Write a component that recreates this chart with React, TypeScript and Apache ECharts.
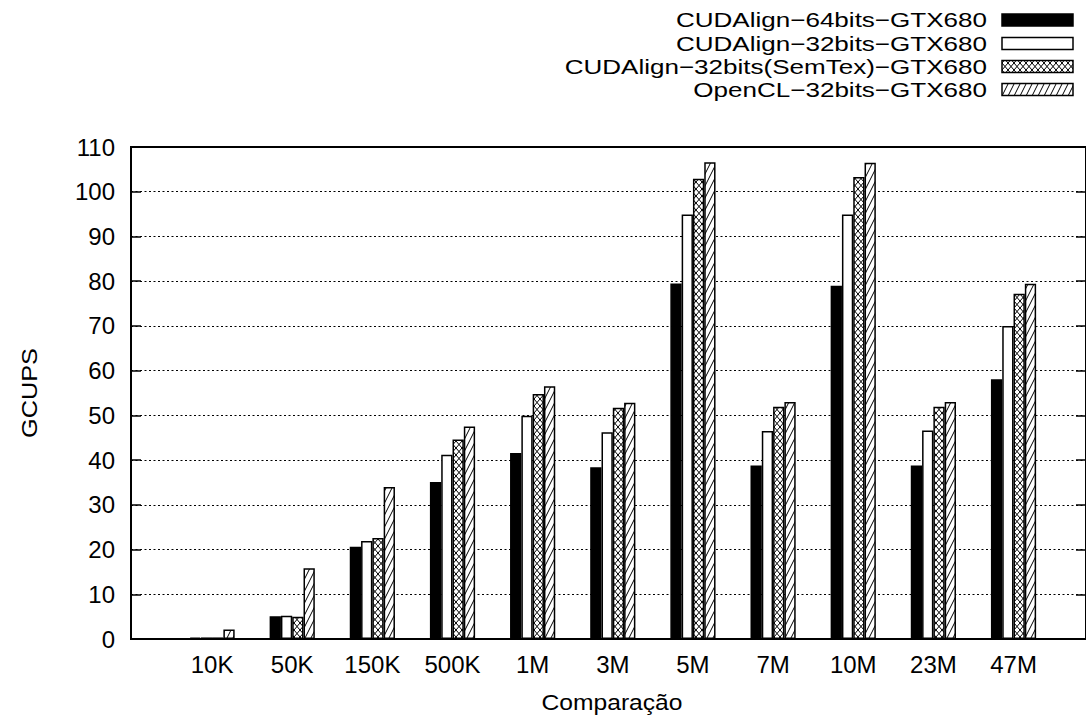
import React, { useEffect, useRef } from "react";
import * as echarts from "echarts";

const categories = ["10K", "50K", "150K", "500K", "1M", "3M", "5M", "7M", "10M", "23M", "47M"];
const seriesNames = [
  "CUDAlign−64bits−GTX680",
  "CUDAlign−32bits−GTX680",
  "CUDAlign−32bits(SemTex)−GTX680",
  "OpenCL−32bits−GTX680",
];
const cuda64 = [0.3, 5.1, 20.6, 35.1, 41.6, 38.4, 79.5, 38.8, 79.0, 38.8, 58.1];
const cuda32 = [0.35, 5.2, 21.9, 41.2, 49.9, 46.2, 94.9, 46.5, 94.9, 46.6, 70.0];
const semtex = [0.35, 5.0, 22.6, 44.6, 54.8, 51.7, 102.9, 51.9, 103.3, 51.9, 77.2];
const opencl = [2.1, 15.8, 34.0, 47.5, 56.5, 52.8, 106.6, 53.0, 106.5, 53.0, 79.4];
const yTicks = { min: 0, max: 110, interval: 10 };

const FONT = "'Liberation Sans', Arial, Helvetica, sans-serif";

function makePattern(kind: "cross" | "diag") {
  const c = document.createElement("canvas");
  const w = 6;
  const h = kind === "cross" ? 7 : 12;
  c.width = w;
  c.height = h;
  const ctx = c.getContext("2d")!;
  ctx.fillStyle = "#fff";
  ctx.fillRect(0, 0, w, h);
  ctx.strokeStyle = "#000";
  ctx.lineWidth = 1;
  for (const off of [-w, 0, w]) {
    ctx.beginPath();
    ctx.moveTo(off, h);
    ctx.lineTo(off + w, 0);
    ctx.stroke();
    if (kind === "cross") {
      ctx.beginPath();
      ctx.moveTo(off, 0);
      ctx.lineTo(off + w, h);
      ctx.stroke();
    }
  }
  return { image: c, repeat: "repeat", imageWidth: w, imageHeight: h } as any;
}

export default function App() {
  const ref = useRef<HTMLDivElement>(null);
  useEffect(() => {
    if (!ref.current) return;
    const chart = echarts.init(ref.current, null, { renderer: "svg" });
    const cross = makePattern("cross");
    const diag = makePattern("diag");
    const fills: any[] = ["#000", "#fff", cross, diag];
    const datas = [cuda64, cuda32, semtex, opencl];

    const top = 147;
    const bottom = 722 - 639;

    const legendRows = [20, 43.5, 66.5, 89.5];
    const graphic: any[] = [];
    seriesNames.forEach((n, i) => {
      graphic.push({
        type: "text",
        x: 987,
        y: legendRows[i],
        scaleX: 1.24,
        style: {
          text: n,
          fontSize: 21,
          fontFamily: FONT,
          fill: "#000",
          textAlign: "right",
          textVerticalAlign: "middle",
        },
      });
      graphic.push({
        type: "rect",
        shape: { x: 1002, y: legendRows[i] - 6, width: 71, height: 12 },
        style: { fill: fills[i], stroke: "#000", lineWidth: 1.5 },
      });
    });
    graphic.push({
      type: "text",
      x: 30,
      y: 393,
      rotation: Math.PI / 2,
      scaleX: 1.15,
      style: {
        text: "GCUPS",
        fontSize: 22,
        fontFamily: FONT,
        fill: "#000",
        textAlign: "center",
        textVerticalAlign: "middle",
      },
    });
    graphic.push({
      type: "text",
      x: 612,
      y: 702,
      scaleX: 1.12,
      style: {
        text: "Comparação",
        fontSize: 22,
        fontFamily: FONT,
        fill: "#000",
        textAlign: "center",
        textVerticalAlign: "middle",
      },
    });

    chart.setOption({
      animation: false,
      backgroundColor: "#fff",
      grid: [
        { left: 131, right: -7, top, bottom, show: true, borderColor: "#000", borderWidth: 2, backgroundColor: "transparent" },
        { left: 172, right: 32.4, top, bottom, show: false },
      ],
      xAxis: [
        { type: "value", gridIndex: 0, show: false, min: 0, max: 1 },
        {
          type: "category",
          gridIndex: 1,
          data: categories,
          axisLine: { show: false },
          axisTick: { show: false },
          axisLabel: { fontSize: 24, fontFamily: FONT, color: "#000", margin: 13 },
        },
      ],
      yAxis: [
        {
          type: "value",
          gridIndex: 0,
          min: yTicks.min,
          max: yTicks.max,
          interval: yTicks.interval,
          axisLine: { show: false },
          axisTick: { show: true, inside: true, length: 10, lineStyle: { color: "#000", width: 1.5 } },
          axisLabel: { fontSize: 24, fontFamily: FONT, color: "#000", margin: 16 },
          splitLine: { show: true, lineStyle: { color: "#000", width: 1, type: [2, 2.5] } },
        },
        {
          type: "value",
          gridIndex: 0,
          position: "right",
          min: yTicks.min,
          max: yTicks.max,
          interval: yTicks.interval,
          axisLine: { show: false },
          axisTick: { show: true, inside: true, length: 10, lineStyle: { color: "#000", width: 1.5 } },
          axisLabel: { show: false },
          splitLine: { show: false },
        },
        {
          type: "value",
          gridIndex: 1,
          min: yTicks.min,
          max: yTicks.max,
          interval: yTicks.interval,
          show: false,
        },
      ],
      series: seriesNames.map((n, i) => ({
        name: n,
        type: "bar",
        xAxisIndex: 1,
        yAxisIndex: 2,
        data: datas[i],
        barWidth: 11.3,
        barGap: "0%",
        itemStyle: { color: fills[i], borderColor: "#000", borderWidth: 1.5 },
        z: 3,
      })),
      graphic,
    });
    return () => chart.dispose();
  }, []);
  return (
    <div
      ref={ref}
      style={{ position: "absolute", left: 0, top: 0, width: 1086, height: 722 }}
    />
  );
}
